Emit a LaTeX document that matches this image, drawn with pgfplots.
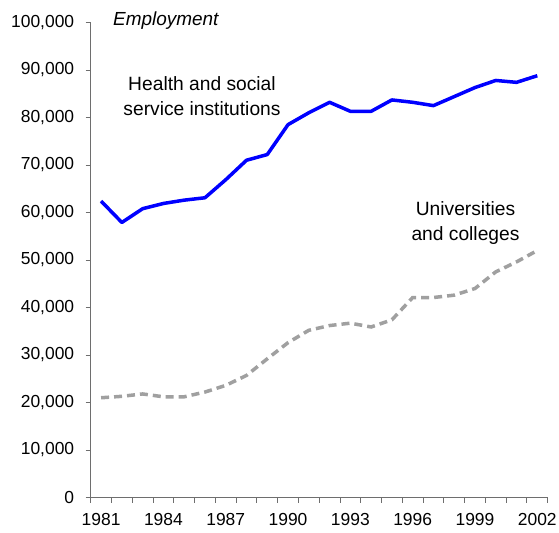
\documentclass[border=0pt]{standalone}
\usepackage{fontspec}
\setmainfont{Liberation Sans}
\usepackage{pgfplots}
\pgfplotsset{compat=1.18}
\definecolor{hblue}{RGB}{0,0,255}
\definecolor{ugrey}{RGB}{160,160,160}
\definecolor{axgrey}{RGB}{110,110,110}
\begin{document}
\begin{tikzpicture}
\useasboundingbox (-90.7bp,-35.5bp) rectangle (468.3bp,497.5bp);
\begin{axis}[
  at={(0,0)}, anchor=south west,
  scale only axis, width=457bp, height=475bp,
  xmin=1980.5, xmax=2002.5, ymin=0, ymax=100000,
  axis x line=bottom, axis y line=left,
  axis line style={-, draw=axgrey, line width=0.8pt},
  every tick/.style={draw=axgrey, line width=0.8pt},
  tick align=outside,
  xtick={1981,1984,...,2002},
  major x tick style={draw=none},
  minor xtick={1980.5,1981.5,...,2002.5},
  minor tick length=5bp,
  ytick={0,10000,...,100000},
  major tick length=5bp,
  scaled y ticks=false,
  /pgf/number format/assume math mode=true,
  yticklabel style={font=\fontsize{17.5}{20}\selectfont, xshift=-8bp, /pgf/number format/fixed, /pgf/number format/1000 sep={,}},
  xticklabel style={font=\fontsize{17.5}{20}\selectfont, yshift=-10bp, inner sep=1bp, /pgf/number format/fixed, /pgf/number format/1000 sep={}},
  clip=false,
]
\addplot[hblue, line width=3.5bp, line join=round] coordinates {
(1981,62400) (1982,57900) (1983,60800) (1984,61900) (1985,62600) (1986,63100)
(1987,66900) (1988,71000) (1989,72200) (1990,78500) (1991,81000) (1992,83200)
(1993,81300) (1994,81300) (1995,83700) (1996,83200) (1997,82500) (1998,84400)
(1999,86300) (2000,87800) (2001,87400) (2002,88800)};
\addplot[ugrey, line width=3.5bp, dash pattern=on 8bp off 5bp] coordinates {
(1981,21000) (1982,21300) (1983,21800) (1984,21200) (1985,21200) (1986,22200)
(1987,23600) (1988,25700) (1989,29200) (1990,32600) (1991,35200) (1992,36200)
(1993,36700) (1994,35900) (1995,37400) (1996,42100) (1997,42100) (1998,42600)
(1999,44000) (2000,47500) (2001,49600) (2002,52000)};
\end{axis}
\node[align=center, font=\fontsize{19.3}{25}\selectfont] at (111.3bp,401bp) {Health and social\\service institutions};
\node[align=center, font=\fontsize{19.3}{25}\selectfont] at (374.8bp,274.5bp) {Universities\\and colleges};
\node[anchor=base west, inner sep=0pt, font=\fontsize{19}{22}\selectfont\itshape] at (22.3bp,471.5bp) {Employment};
\end{tikzpicture}
\end{document}
